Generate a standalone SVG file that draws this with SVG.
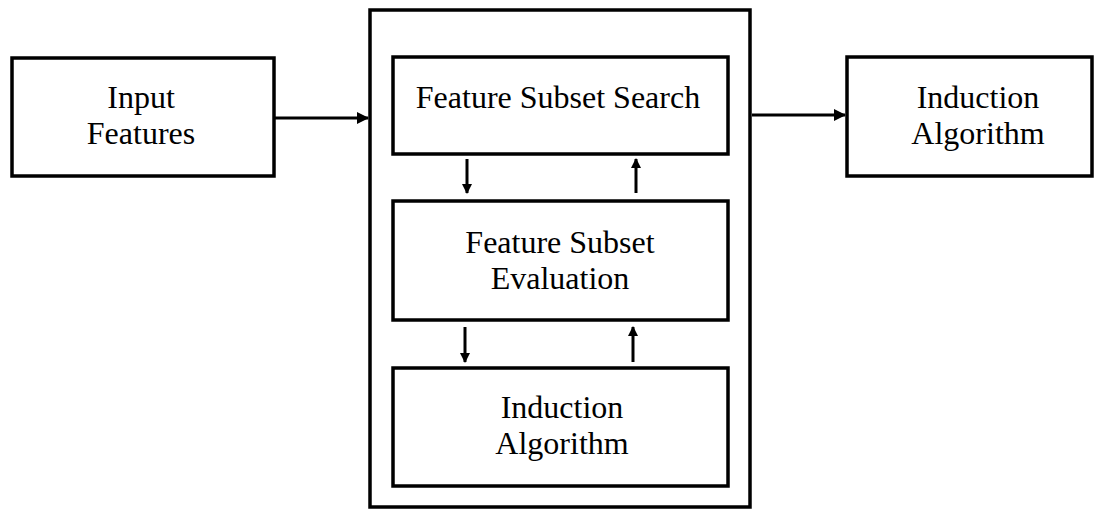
<svg xmlns="http://www.w3.org/2000/svg" width="1105" height="510" viewBox="0 0 1105 510">
<defs>
<marker id="ah" markerWidth="12" markerHeight="12" refX="11" refY="6" orient="auto" markerUnits="userSpaceOnUse">
<path d="M0,0 L12,6 L0,12 Z" fill="#000"/>
</marker>
<marker id="ahs" markerWidth="10" markerHeight="10" refX="9" refY="5" orient="auto" markerUnits="userSpaceOnUse">
<path d="M0,0 L10,5 L0,10 Z" fill="#000"/>
</marker>
<style>
.box{fill:#fff;stroke:#000;stroke-width:3.5}
.lbl{font-size:32px;fill:#000;text-anchor:middle}
.conn{stroke:#000;stroke-width:3;fill:none}
.conns{stroke:#000;stroke-width:3;fill:none}
</style>
</defs>
<rect width="1105" height="510" fill="#fff"/>
<g id="wrapper"><rect class="box" x="370" y="10" width="380" height="497"/></g>
<g id="input-features" font-family="Liberation Serif, Times New Roman, serif"><rect class="box" x="12" y="58" width="262" height="118"/><text class="lbl" x="141" y="108">Input</text><text class="lbl" x="141" y="144">Features</text></g>
<g id="feature-subset-search" font-family="Liberation Serif, Times New Roman, serif"><rect class="box" x="393" y="57" width="335" height="97"/><text class="lbl" x="558" y="108">Feature Subset Search</text></g>
<g id="feature-subset-evaluation" font-family="Liberation Serif, Times New Roman, serif"><rect class="box" x="393" y="201" width="335" height="119"/><text class="lbl" x="560" y="253">Feature Subset</text><text class="lbl" x="560" y="289">Evaluation</text></g>
<g id="induction-algorithm-inner" font-family="Liberation Serif, Times New Roman, serif"><rect class="box" x="393" y="368" width="335" height="118"/><text class="lbl" x="562" y="418">Induction</text><text class="lbl" x="562" y="454">Algorithm</text></g>
<g id="induction-algorithm-out" font-family="Liberation Serif, Times New Roman, serif"><rect class="box" x="847" y="57" width="245" height="119"/><text class="lbl" x="978" y="108">Induction</text><text class="lbl" x="978" y="144">Algorithm</text></g>
<g id="connectors">
<line class="conn" x1="275" y1="118" x2="368" y2="118" marker-end="url(#ah)"/>
<line class="conn" x1="752" y1="115" x2="845" y2="115" marker-end="url(#ah)"/>
<line class="conns" x1="467" y1="159" x2="467" y2="193" marker-end="url(#ahs)"/>
<line class="conns" x1="636" y1="193" x2="636" y2="159" marker-end="url(#ahs)"/>
<line class="conns" x1="465" y1="327" x2="465" y2="362" marker-end="url(#ahs)"/>
<line class="conns" x1="633" y1="362" x2="633" y2="327" marker-end="url(#ahs)"/>
</g>
</svg>
